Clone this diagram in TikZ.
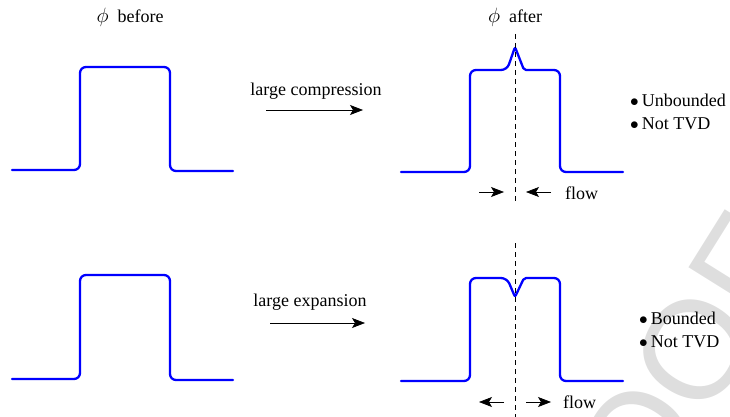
\documentclass[tikz,border=0pt]{standalone}
\usepackage{fontspec}
\setmainfont{Liberation Serif}
\newfontfamily\wmfont{Liberation Sans}
\usetikzlibrary{arrows.meta}
\tikzset{
  pulse/.style={draw=blue, line width=2.3pt, line join=round, line cap=round},
  lbl/.style={font=\fontsize{18}{22}\selectfont, inner sep=0pt},
  bigarrow/.style={-{Stealth[length=13pt,width=10pt,inset=3pt]}, line width=0.7pt},
  flowarrow/.style={-{Stealth[length=13pt,width=10pt,inset=3pt]}, line width=0.7pt},
  axisline/.style={dashed, line width=0.6pt, dash pattern=on 5pt off 4pt},
}
\newcommand{\bigphi}{{\fontsize{22}{22}\selectfont$\phi$}\hspace{9pt}}
\begin{document}
\begin{tikzpicture}[x=1pt,y=-1pt]
\useasboundingbox (0,0) rectangle (730,417);
\begin{scope}
\clip (0,0) rectangle (730,417);
\node[rotate=58, text=black!13, font=\wmfont\fontsize{140}{140}\selectfont, inner sep=0pt] (wm) at (637,442) {PROOF};
\end{scope}

% titles
\node[lbl] (tb) at (130,17) {\bigphi before};
\node[lbl] (ta) at (515,17) {\bigphi after};

% top-left pulse
\draw[pulse, rounded corners=6pt] (12,170) -- (80,170) -- (80,67) -- (170,67) -- (170,171) -- (233,171);

% bottom-left pulse
\draw[pulse, rounded corners=6pt] (12,379) -- (80,379) -- (80,275) -- (170,275) -- (170,380) -- (233,380);

% top-right pulse
\draw[pulse, rounded corners=6pt] (401,172) -- (470,172) -- (470,70) -- (507,70) [rounded corners=2pt] -- (515,47) -- (524,70) [rounded corners=6pt] -- (560,70) -- (560,172) -- (623,172);

% bottom-right pulse
\draw[pulse, rounded corners=6pt] (401,381) -- (470,381) -- (470,278) -- (507,278) [rounded corners=2pt] -- (515,297) -- (524,278) [rounded corners=6pt] -- (560,278) -- (560,381) -- (623,381);

% dashed axes
\coordinate (d1a) at (515,34);
\coordinate (d1b) at (515,201);
\coordinate (d2a) at (515,243);
\coordinate (d2b) at (515,417);
\draw[axisline] (d1a) -- (d1b);
\draw[axisline] (d2a) -- (d2b);

% main arrows
\node[lbl] (comp) at (316,91) {large compression};
\coordinate (c1) at (266,110);
\coordinate (c2) at (363,110);
\draw[bigarrow] (c1) -- (c2);

\node[lbl] (exp) at (310,302) {large expansion};
\coordinate (e1) at (270,323);
\coordinate (e2) at (365,323);
\draw[bigarrow] (e1) -- (e2);

% flow arrows top (converging)
\coordinate (f1a) at (479,192);
\coordinate (f1b) at (504,192);
\coordinate (f1c) at (551,192);
\coordinate (f1d) at (526,192);
\draw[flowarrow] (f1a) -- (f1b);
\draw[flowarrow] (f1c) -- (f1d);
\node[lbl, anchor=west] (flow1) at (565,193) {flow};

% flow arrows bottom (diverging)
\coordinate (f2a) at (504,402);
\coordinate (f2b) at (479,402);
\coordinate (f2c) at (526,402);
\coordinate (f2d) at (551,402);
\draw[flowarrow] (f2a) -- (f2b);
\draw[flowarrow] (f2c) -- (f2d);
\node[lbl, anchor=west] (flow2) at (563,402) {flow};

% bullet lists
\node[lbl, anchor=west] (u1) at (630,100) {$\bullet$\,Unbounded};
\node[lbl, anchor=west] (u2) at (630,124) {$\bullet$\,Not TVD};
\node[lbl, anchor=west] (b1) at (639,318) {$\bullet$\,Bounded};
\node[lbl, anchor=west] (b2) at (639,342) {$\bullet$\,Not TVD};
\end{tikzpicture}
\end{document}
